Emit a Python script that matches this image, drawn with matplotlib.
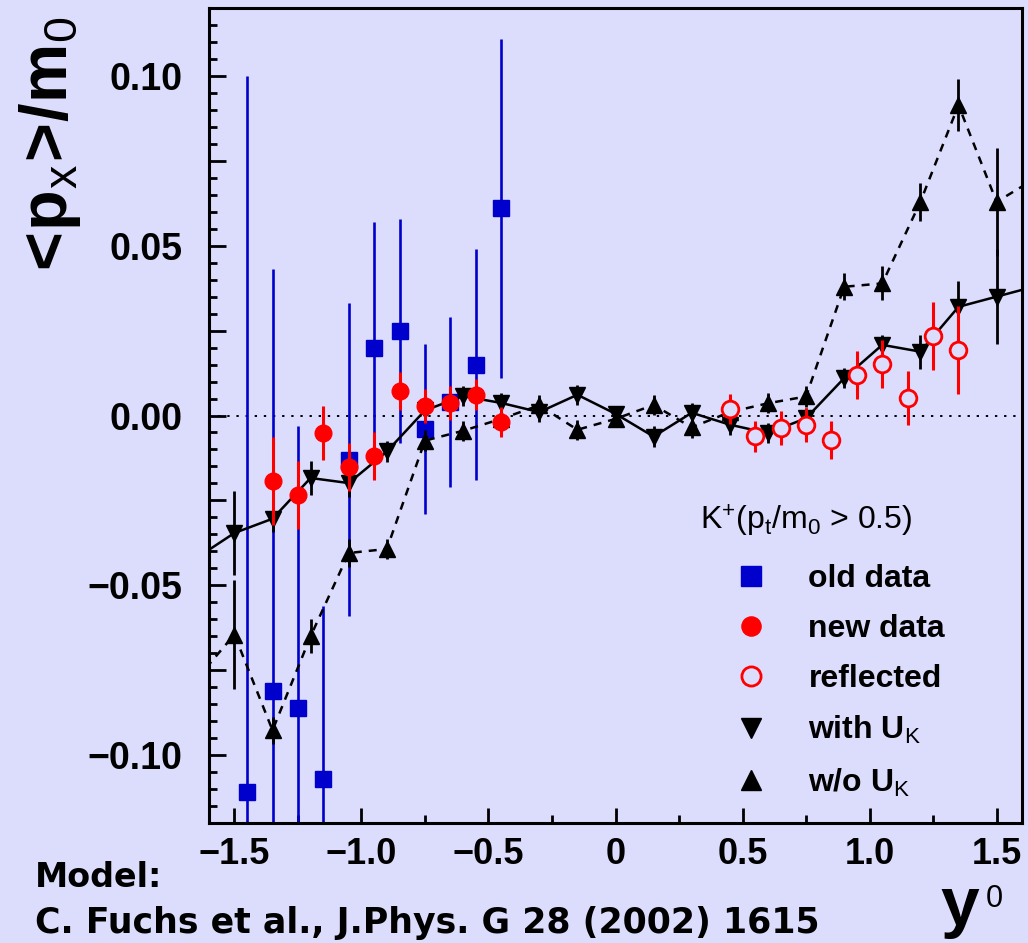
import matplotlib
matplotlib.use("Agg")
import matplotlib.pyplot as plt
from matplotlib.ticker import MultipleLocator, FuncFormatter
import numpy as np

plt.rcParams['font.family'] = ['Liberation Sans', 'DejaVu Sans']
plt.rcParams['mathtext.fontset'] = 'custom'
plt.rcParams['mathtext.rm'] = 'Liberation Sans'
plt.rcParams['mathtext.it'] = 'Liberation Sans:italic'
plt.rcParams['mathtext.bf'] = 'Liberation Sans:bold'

# old data (blue squares)
old_y0 = [-1.45, -1.35, -1.25, -1.15, -1.05, -0.95, -0.85, -0.75, -0.65, -0.55, -0.45]
old_px = [-0.111, -0.081, -0.086, -0.107, -0.013, 0.020, 0.025, -0.004, 0.004, 0.015, 0.061]
old_err = [0.211, 0.124, 0.083, 0.051, 0.046, 0.037, 0.033, 0.025, 0.025, 0.034, 0.050]

# new data (red filled circles)
new_y0 = [-1.35, -1.25, -1.15, -1.05, -0.95, -0.85, -0.75, -0.65, -0.55, -0.45]
new_px = [-0.0192, -0.0233, -0.0052, -0.0152, -0.0119, 0.0073, 0.0027, 0.0036, 0.0061, -0.0019]
new_err = [0.013, 0.010, 0.008, 0.007, 0.007, 0.0056, 0.005, 0.005, 0.0046, 0.0045]

# reflected (red open circles)
refl_y0 = [0.45, 0.55, 0.65, 0.75, 0.85, 0.95, 1.05, 1.15, 1.25, 1.35]
refl_px = [0.0019, -0.0061, -0.0036, -0.0027, -0.0073, 0.0119, 0.0152, 0.0052, 0.0233, 0.0192]
refl_err = [0.0045, 0.0046, 0.005, 0.005, 0.0056, 0.007, 0.007, 0.008, 0.010, 0.013]

# model (C. Fuchs et al.)
model_y0 = [-1.65, -1.5, -1.35, -1.2, -1.05, -0.9, -0.75, -0.6, -0.45, -0.3, -0.15, 0.0,
            0.15, 0.3, 0.45, 0.6, 0.75, 0.9, 1.05, 1.2, 1.35, 1.5, 1.65]
with_uk = [-0.042, -0.0346, -0.0304, -0.0184, -0.0199, -0.0106, 0.0015, 0.0057, 0.0037, 0.001,
           0.0061, 0.0005, -0.0062, 0.0008, -0.0027, -0.0052, -0.0008, 0.011, 0.0208, 0.0188,
           0.032, 0.035, 0.038]
with_err = [0, 0.0125, 0.004, 0.005, 0.004, 0.003, 0.003, 0.003, 0.003, 0.003, 0.003, 0.002,
            0.003, 0.003, 0.003, 0.003, 0.003, 0.003, 0.003, 0.005, 0.0076, 0.014, 0]
wo_uk = [-0.0777, -0.0645, -0.0927, -0.065, -0.0405, -0.0393, -0.0074, -0.0045, -0.001, 0.003,
         -0.0042, -0.001, 0.0031, -0.0035, 0.001, 0.0036, 0.0056, 0.0379, 0.0389, 0.0629,
         0.0914, 0.0629, 0.0697]
wo_err = [0, 0.016, 0.004, 0.005, 0.004, 0.003, 0.003, 0.003, 0.003, 0.003, 0.003, 0.002,
          0.003, 0.003, 0.003, 0.003, 0.003, 0.004, 0.005, 0.0055, 0.0077, 0.016, 0]

legend_labels = ["old data", "new data", "reflected", "with U$_{\\mathrm{K}}$", "w/o U$_{\\mathrm{K}}$"]

bg = '#dcdcfc'
blue = '#0000cc'
red = '#ff0000'

fig = plt.figure(figsize=(10.28, 9.43), dpi=100, facecolor=bg)
ax = fig.add_axes([209 / 1028, 1 - 823 / 943, (1022 - 209) / 1028, (823 - 8) / 943])
ax.set_facecolor(bg)

ax.axhline(0, color='black', lw=1.4, ls=(0, (1.2, 3.5)), zorder=1)

# blue old data
ax.errorbar(old_y0, old_px, yerr=old_err, fmt='none', ecolor=blue, elinewidth=1.9, zorder=2)
h_old, = ax.plot(old_y0, old_px, ls='none', marker='s', ms=12, color=blue, mec=blue, zorder=2)

# model curves
ax.plot(model_y0, with_uk, color='black', lw=1.8, zorder=3)
ax.plot(model_y0, wo_uk, color='black', lw=1.8, ls=(0, (3.2, 2.8)), zorder=3)
ax.errorbar(model_y0, with_uk, yerr=with_err, fmt='none', ecolor='black', elinewidth=2.0, zorder=3)
ax.errorbar(model_y0, wo_uk, yerr=wo_err, fmt='none', ecolor='black', elinewidth=2.0, zorder=3)
h_with, = ax.plot(model_y0, with_uk, ls='none', marker='v', ms=12, color='black', zorder=3)
h_wo, = ax.plot(model_y0, wo_uk, ls='none', marker='^', ms=12, color='black', zorder=3)

# red data
ax.errorbar(new_y0, new_px, yerr=new_err, fmt='none', ecolor=red, elinewidth=2.2, zorder=4)
h_new, = ax.plot(new_y0, new_px, ls='none', marker='o', ms=12, color=red, zorder=4)
ax.errorbar(refl_y0, refl_px, yerr=refl_err, fmt='none', ecolor=red, elinewidth=2.2, zorder=4)
h_refl, = ax.plot(refl_y0, refl_px, ls='none', marker='o', ms=12, mfc=bg, mec=red, mew=2.0, zorder=4)

ax.set_xlim(-1.6, 1.6)
ax.set_ylim(-0.12, 0.12)

ax.xaxis.set_major_locator(MultipleLocator(0.5))
ax.xaxis.set_minor_locator(MultipleLocator(0.25))
ax.yaxis.set_major_locator(MultipleLocator(0.025))
ax.yaxis.set_minor_locator(MultipleLocator(0.005))


def xfmt(v, pos):
    if abs(v) < 1e-9:
        return "0"
    return f"{v:.1f}".replace("-", "\u2212")


def yfmt(v, pos):
    k = round(v / 0.025)
    if k % 2 != 0:
        return ""
    return f"{v:.2f}".replace("-", "\u2212").replace("\u22120.00", "0.00")


ax.xaxis.set_major_formatter(FuncFormatter(xfmt))
ax.yaxis.set_major_formatter(FuncFormatter(yfmt))

ax.tick_params(axis='both', which='both', direction='in', top=False, right=False, width=2.0)
ax.tick_params(axis='x', which='major', length=11, pad=10, labelsize=26)
ax.tick_params(axis='x', which='minor', length=6)
ax.tick_params(axis='y', which='major', length=12, pad=19, labelsize=27)
ax.tick_params(axis='y', which='minor', length=6)
for lab in ax.get_xticklabels() + ax.get_yticklabels():
    lab.set_fontweight('bold')
for sp in ax.spines.values():
    sp.set_linewidth(2.2)
    sp.set_zorder(6)

# legend
ax.legend([h_old, h_new, h_refl, h_with, h_wo], legend_labels,
          loc='upper left', bbox_to_anchor=(735 / 1028, 1 - 564 / 943),
          bbox_transform=fig.transFigure, frameon=False,
          prop={'weight': 'bold', 'size': 23}, handlelength=1.0, handletextpad=1.3,
          labelspacing=0.63, borderpad=0, borderaxespad=0, markerscale=1.15)
fig.text(700 / 1028, 1 - 530 / 943, r"K$^{+}$(p$_{\mathrm{t}}$/m$_{\mathrm{0}}$ > 0.5)",
         fontsize=23, ha='left', va='baseline')

# axis titles
fig.text(50 / 1028, 1 - 17 / 943,
         r"$\mathbf{<\!p}_{\mathrm{x}}\!\mathbf{>\!/m}_{\mathrm{0}}$",
         fontsize=48, rotation=90, ha='center', va='top')
fig.text(940 / 1028, 1 - 925 / 943, "y", fontsize=50, fontweight='bold', ha='left', va='baseline')
fig.text(986 / 1028, 1 - 884 / 943, "0", fontsize=22, ha='left', va='top')

# model reference
fig.text(35 / 1028, 1 - 887 / 943, "Model:", fontsize=24, fontweight='bold',
         family='DejaVu Sans', ha='left', va='baseline')
fig.text(35 / 1028, 1 - 933 / 943, "C. Fuchs et al., J.Phys. G 28 (2002) 1615", fontsize=25,
         fontweight='bold', family='DejaVu Sans', ha='left', va='baseline')

fig.savefig("out.png", dpi=100, facecolor=bg)
